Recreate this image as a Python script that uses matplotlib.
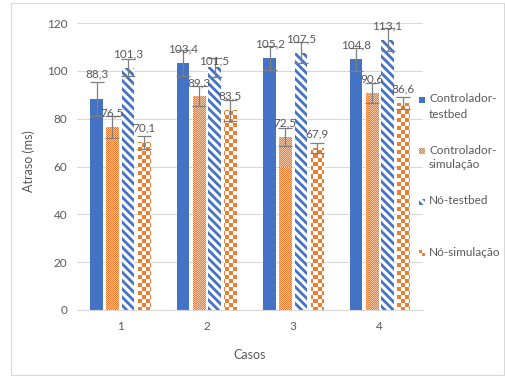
import matplotlib
matplotlib.use("Agg")
import matplotlib.pyplot as plt
import numpy as np
from matplotlib.colors import to_rgb
from matplotlib.patches import Rectangle

casos = ["1", "2", "3", "4"]
series_names = ["Controlador-\ntestbed", "Controlador-\nsimulação", "Nó-testbed", "Nó-simulação"]

ctrl_testbed = [88.3, 103.4, 105.2, 104.8]
ctrl_sim = [76.5, 89.3, 72.5, 90.6]
no_testbed = [101.3, 101.5, 107.5, 113.1]
no_sim = [70.1, 83.5, 67.9, 86.6]

ctrl_testbed_err = [7.0, 5.4, 5.0, 4.9]
ctrl_sim_err = [4.7, 4.2, 3.8, 4.2]
no_testbed_err = [3.6, 4.0, 4.4, 5.0]
no_sim_err = [2.8, 4.3, 2.1, 2.4]

BLUE = "#4472C4"
ORANGE = "#ED7D31"
LIGHT_OR = "#F7C4A0"
GRAY_TXT = "#595959"
GRID = "#D9D9D9"
STRIPES = "\\" * 4

W, H = 505, 376
plt.rcParams["font.family"] = ["Lato", "DejaVu Sans"]
plt.rcParams["hatch.linewidth"] = 2.0


def checker(h, w, cell, c1, c2):
    yy, xx = np.mgrid[0:h, 0:w]
    mask = ((yy // cell + xx // cell) % 2).astype(bool)
    img = np.empty((h, w, 3))
    img[:] = to_rgb(c1)
    img[mask] = to_rgb(c2)
    return img


fig = plt.figure(figsize=(W / 100, H / 100), dpi=100)
ax_l, ax_r, ax_t, ax_b = 77, 423, 23, 310
ax = fig.add_axes([ax_l / W, 1 - ax_b / H, (ax_r - ax_l) / W, (ax_b - ax_t) / H])
ax.set_xlim(0.5, 4.5)
ax.set_ylim(0, 120)

ax_w, ax_h = ax_r - ax_l, ax_b - ax_t
fine_tex = checker(ax_h, ax_w, 1, ORANGE, LIGHT_OR)
big_tex = checker(ax_h, ax_w, 4, ORANGE, "white")

x = np.arange(1, len(casos) + 1)
width, step = 0.145, 0.182
offsets = (np.arange(4) - 1.5) * step

values = [ctrl_testbed, ctrl_sim, no_testbed, no_sim]
errors = [ctrl_testbed_err, ctrl_sim_err, no_testbed_err, no_sim_err]
textures = [None, fine_tex, None, big_tex]

# label nudges in pixels for a couple of labels that sit off the default spot
nudges = {(0, 0): 11, (1, 2): -8}

for s, (vals, errs, tex) in enumerate(zip(values, errors, textures)):
    xs = x + offsets[s]
    if s == 0:
        bars = ax.bar(xs, vals, width, color=BLUE, linewidth=0, zorder=2)
    elif s == 2:
        bars = ax.bar(xs, vals, width, color="white", edgecolor=BLUE,
                      hatch=STRIPES, linewidth=0, zorder=2)
    else:
        bars = ax.bar(xs, vals, width, color=ORANGE, linewidth=0, zorder=2)
    if tex is not None:
        for b in bars:
            im = ax.imshow(tex, extent=(0.5, 4.5, 0, 120), origin="upper",
                           interpolation="nearest", aspect="auto", zorder=2.1)
            im.set_clip_path(b)
    ax.errorbar(xs, vals, yerr=errs, fmt="none", ecolor="#7F7F7F",
                elinewidth=0.9, capsize=5, capthick=0.9, zorder=4)
    for c, (xi, v) in enumerate(zip(xs, vals)):
        off = (14 + nudges.get((c, s), 0)) * 0.72
        ax.annotate(f"{v:.1f}".replace(".", ","), xy=(xi, v), xytext=(0, off),
                    textcoords="offset points", ha="center", va="center",
                    fontsize=8.5, color=GRAY_TXT, zorder=5)

ax.set_xlim(0.5, 4.5)
ax.set_ylim(0, 120)
ax.set_xticks(x)
ax.set_xticklabels(casos)
ax.set_yticks(np.arange(0, 121, 20))
ax.tick_params(length=0, labelsize=8.5, labelcolor=GRAY_TXT)
ax.tick_params(axis="y", pad=7)
ax.tick_params(axis="x", pad=8)
ax.grid(axis="y", color=GRID, linewidth=0.8, zorder=0)
ax.set_axisbelow(True)
for side in ["left", "right", "top"]:
    ax.spines[side].set_visible(False)
ax.spines["bottom"].set_color(GRID)
ax.spines["bottom"].set_linewidth(0.8)

ax.set_ylabel("Atraso (ms)", fontsize=9, color=GRAY_TXT)
ax.yaxis.set_label_coords(-0.121, 0.52)
ax.set_xlabel("Casos", fontsize=9, color=GRAY_TXT)
ax.xaxis.set_label_coords(0.5, -0.135)

# legend drawn by hand: key squares plus labels, one row every 51 px
leg_y = [99, 150, 201, 252]
key = 6
for i, (name, yc) in enumerate(zip(series_names, leg_y)):
    kax = fig.add_axes([419 / W, 1 - (yc + 1 + key / 2) / H, key / W, key / H])
    kax.set_xlim(0, 1)
    kax.set_ylim(0, 1)
    kax.axis("off")
    if i == 0:
        kax.add_patch(Rectangle((0, 0), 1, 1, color=BLUE, linewidth=0))
    elif i == 1:
        kax.imshow(checker(key, key, 1, ORANGE, LIGHT_OR), extent=(0, 1, 0, 1),
                   interpolation="nearest", aspect="auto")
    elif i == 2:
        kax.add_patch(Rectangle((0, 0), 1, 1, facecolor="white", edgecolor=BLUE,
                                hatch=STRIPES, linewidth=0))
    else:
        kax.imshow(checker(key, key, 3, ORANGE, "white"), extent=(0, 1, 0, 1),
                   interpolation="nearest", aspect="auto")
    fig.text(429 / W, 1 - yc / H, name.split("\n")[0], fontsize=8.5,
             color=GRAY_TXT, va="center", ha="left")
    if "\n" in name:
        fig.text(429 / W, 1 - (yc + 15) / H, name.split("\n")[1], fontsize=8.5,
                 color=GRAY_TXT, va="center", ha="left")

# chart area border
fig.add_artist(Rectangle((11 / W, 1.5 / H), (W - 12) / W, (H - 4.5) / H,
                         transform=fig.transFigure, fill=False,
                         edgecolor=GRID, linewidth=0.8))

fig.savefig("out.png", dpi=100)
plt.close(fig)
